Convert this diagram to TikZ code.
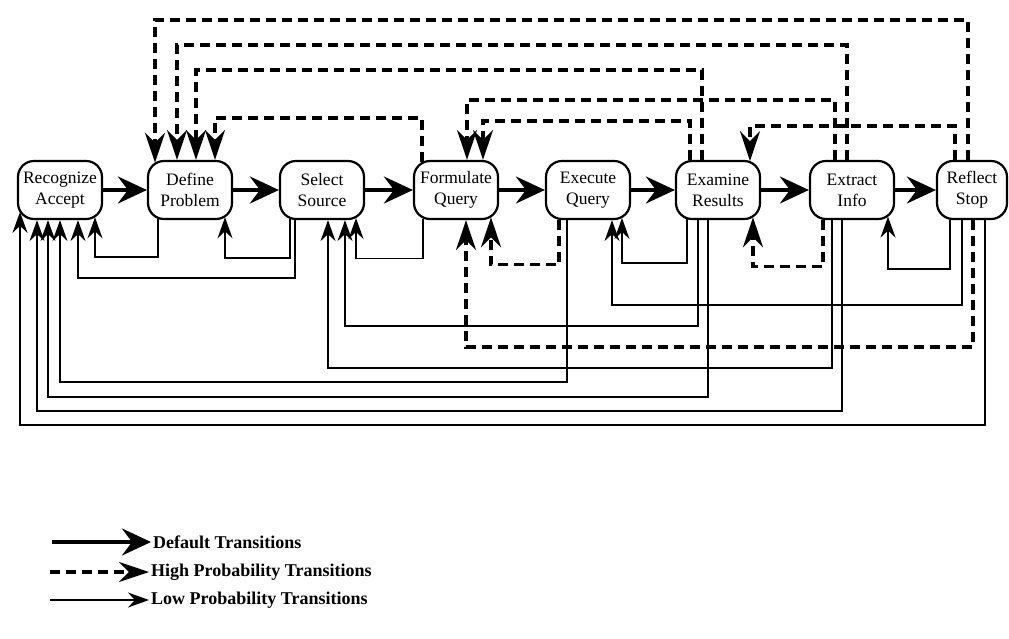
\documentclass[tikz,border=0pt]{standalone}
\usepackage{fontspec}
\setmainfont{Liberation Serif}
\usetikzlibrary{arrows.meta}

\begin{document}
\begin{tikzpicture}[x=1pt, y=-1pt,
    stagebox/.style={draw, line width=2.2pt, rounded corners=16pt, minimum width=84pt,
      minimum height=58pt, inner sep=1pt, align=center, font=\fontsize{17.5}{21}\selectfont},
    defarrow/.style={line width=3.6pt, -{Stealth[length=29pt,width=27pt,inset=10pt]}},
    hiarrow/.style={line width=3.3pt, dash pattern=on 10pt off 6pt,
      -{Stealth[length=30pt,width=20pt,inset=10pt]}},
    loarrow/.style={line width=1.9pt, -{Stealth[length=21pt,width=15pt,inset=7pt]}},
    legend/.style={anchor=west, inner sep=2pt, font=\bfseries\fontsize{18}{20}\selectfont}]
  \useasboundingbox (0,0) rectangle (1009,638);

  \node[stagebox] (rec)  at (60,190)  {Recognize\\Accept};
  \node[stagebox] (def)  at (190,190) {Define\\Problem};
  \node[stagebox] (sel)  at (322,190) {Select\\Source};
  \node[stagebox] (form) at (456,190) {Formulate\\Query};
  \node[stagebox] (exe)  at (588,190) {Execute\\Query};
  \node[stagebox] (exam) at (718,190) {Examine\\Results};
  \node[stagebox] (extr) at (852,190) {Extract\\Info};
  \node[stagebox, minimum width=70pt] (refl) at (972,190) {Reflect\\Stop};

  \foreach \a/\b in {rec/def, def/sel, sel/form, form/exe, exe/exam, exam/extr, extr/refl}
    \draw[defarrow] (\a.east) -- (\b.west);

  \draw[hiarrow] ([xshift=-4pt]refl.north) -- ++(0,-140) -| ([xshift=-35pt,yshift=-2.8pt]def.north);
  \draw[hiarrow] ([xshift=-5pt]extr.north) -- ++(0,-115) -| ([xshift=-13pt]def.north);
  \draw[hiarrow] ([xshift=-16pt]exam.north) -- ++(0,-90) -| ([xshift=6pt]def.north);
  \draw[hiarrow] ([xshift=-34pt,yshift=-2.1pt]form.north) -- ++(0,-44) -| ([xshift=25pt]def.north);
  \draw[hiarrow] ([xshift=-17pt]extr.north) -- ++(0,-60) -| ([xshift=11pt]form.north);
  \draw[hiarrow] ([xshift=-28pt]exam.north) -- ++(0,-39) -| ([xshift=27pt]form.north);
  \draw[hiarrow] ([xshift=-17pt]refl.north) -- ++(0,-34) -| ([xshift=32pt,yshift=-1.2pt]exam.north);

  \draw[loarrow] ([xshift=-32pt,yshift=1.2pt]def.south) -- ++(0,38) -| ([xshift=35pt,yshift=2.8pt]rec.south);
  \draw[loarrow] ([xshift=-27pt]sel.south) -- ++(0,58) -| ([xshift=18pt]rec.south);
  \draw[loarrow] ([xshift=-21pt]exe.south) -- ++(0,162) -| (rec.south);
  \draw[loarrow] ([xshift=-10pt]exam.south) -- ++(0,177) -| ([xshift=-12pt]rec.south);
  \draw[loarrow] ([xshift=-10pt]extr.south) -- ++(0,191) -| ([xshift=-23pt]rec.south);
  \draw[loarrow] ([xshift=13pt]refl.south) -- ++(0,205) -| ([xshift=-40pt,yshift=8.2pt]rec.south);
  \draw[loarrow] ([xshift=-32pt,yshift=1.2pt]sel.south) -- ++(0,39) -| ([xshift=35pt,yshift=2.8pt]def.south);
  \draw[loarrow] ([xshift=-33pt,yshift=1.6pt]form.south) -- ++(0,40) -| ([xshift=34pt,yshift=2.1pt]sel.south);
  \draw[loarrow] ([xshift=-20pt]exam.south) -- ++(0,106) -| ([xshift=23pt]sel.south);
  \draw[loarrow] ([xshift=-20pt]extr.south) -- ++(0,148) -| ([xshift=6pt]sel.south);
  \draw[loarrow] ([xshift=-31pt,yshift=0.8pt]exam.south) -- ++(0,44) -| ([xshift=34pt,yshift=2.1pt]exe.south);
  \draw[loarrow] ([xshift=-10pt]refl.south) -- ++(0,85) -| ([xshift=24pt]exe.south);
  \draw[loarrow] ([xshift=-22pt,yshift=0.5pt]refl.south) -- ++(0,49) -| ([xshift=36pt,yshift=3.5pt]extr.south);

  \draw[hiarrow] ([xshift=-29pt,yshift=0.3pt]exe.south) -- ++(0,45) -| ([xshift=35pt,yshift=2.8pt]form.south);
  \draw[hiarrow] ([xshift=1pt]refl.south) -- ++(0,127) -| ([xshift=10pt]form.south);
  \draw[hiarrow] ([xshift=-29pt,yshift=0.3pt]extr.south) -- ++(0,47) -| ([xshift=35pt,yshift=2.8pt]exam.south);

  \node[legend] (ldef) at (151,542) {Default Transitions};
  \node[legend] (lhi)  at (149,572) {High Probability Transitions};
  \node[legend] (llo)  at (149,600) {Low Probability Transitions};
  \coordinate (ld) at (52,542);
  \coordinate (lh) at (50,572);
  \coordinate (ll) at (50,600);
  \draw[defarrow] (ld) -- (ldef.west);
  \draw[hiarrow] (lh) -- (lhi.west);
  \draw[loarrow] (ll) -- (llo.west);
\end{tikzpicture}
\end{document}
